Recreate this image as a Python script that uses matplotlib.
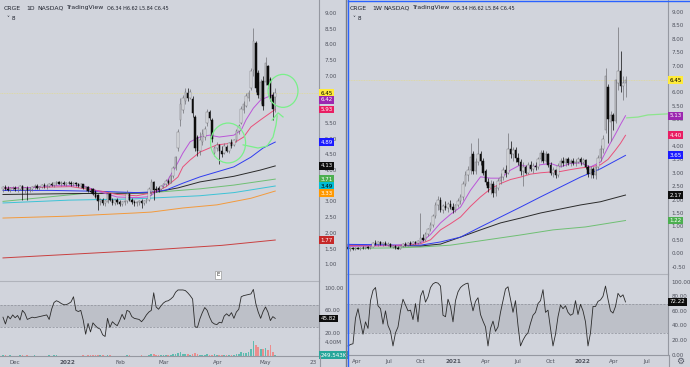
import matplotlib
matplotlib.use('Agg')
import numpy as np
import matplotlib.pyplot as plt
from matplotlib.patches import Ellipse
from matplotlib.transforms import blended_transform_factory as blend

W, H = 690, 367
BG = '#d1d4dc'
TXT = '#50535e'
AXL = '#9598a1'

# ---------------- daily chart (left) ----------------
d_open = [3.38, 3.45, 3.40, 3.36, 3.42, 3.44, 3.38, 3.41, 3.48, 3.36,
          3.43, 3.35, 3.40, 3.45, 3.50, 3.42, 3.46, 3.52, 3.48, 3.50,
          3.56, 3.52, 3.58, 3.62, 3.56, 3.60, 3.55, 3.60, 3.58, 3.54,
          3.58, 3.55, 3.50, 3.54, 3.42, 3.46, 3.34, 3.38, 3.30, 3.20,
          3.00, 3.05, 2.95, 2.98, 3.25, 3.05, 2.96, 3.04, 2.98, 2.92,
          2.98, 3.00, 3.25, 3.06, 2.98, 2.94, 2.97, 3.02, 2.95, 3.00,
          3.06, 3.30, 3.62, 3.40, 3.42, 3.40, 3.48, 3.55, 3.64, 3.60,
          3.80, 4.05, 4.70, 5.60, 5.90, 6.20, 6.45, 6.30, 6.25, 5.70,
          5.05, 4.60, 4.90, 5.05, 5.50, 5.85, 5.60, 4.55, 4.70, 4.80,
          4.60, 4.55, 4.72, 4.60, 4.90, 4.80, 4.95, 5.25, 5.50, 5.90,
          6.05, 6.30, 6.60, 7.20, 8.05, 7.10, 6.25, 6.85, 6.80, 7.30,
          6.90, 6.40, 6.34]
d_high = [3.50, 3.52, 3.48, 3.46, 3.50, 3.50, 3.47, 3.52, 3.52, 3.46,
          3.50, 3.45, 3.48, 3.55, 3.54, 3.50, 3.56, 3.58, 3.55, 3.60,
          3.62, 3.60, 3.66, 3.66, 3.64, 3.65, 3.63, 3.66, 3.64, 3.62,
          3.63, 3.60, 3.58, 3.56, 3.50, 3.48, 3.42, 3.44, 3.36, 3.24,
          3.10, 3.12, 3.06, 3.30, 3.28, 3.12, 3.08, 3.10, 3.05, 3.02,
          3.06, 3.35, 3.28, 3.12, 3.06, 3.02, 3.06, 3.08, 3.05, 3.10,
          3.45, 3.72, 3.66, 3.48, 3.50, 3.52, 3.60, 3.70, 3.72, 3.85,
          4.12, 4.45, 5.30, 6.30, 6.40, 6.60, 6.62, 6.58, 6.35, 5.75,
          5.10, 5.20, 5.30, 5.40, 5.95, 5.90, 5.65, 4.75, 4.90, 4.82,
          4.75, 4.85, 4.80, 4.90, 5.00, 5.00, 5.30, 5.45, 6.05, 6.20,
          6.45, 6.55, 7.25, 8.52, 8.10, 7.20, 6.90, 7.00, 7.60, 7.35,
          6.95, 6.50, 6.62]
d_low = [3.30, 3.35, 3.32, 3.30, 3.36, 3.34, 3.30, 3.36, 3.04, 3.28,
         3.05, 3.30, 3.33, 3.40, 3.38, 3.36, 3.42, 3.44, 3.40, 3.46,
         3.48, 3.45, 3.52, 3.54, 3.50, 3.52, 3.50, 3.54, 3.50, 3.48,
         3.50, 3.46, 3.44, 3.38, 3.34, 3.30, 3.26, 3.20, 3.10, 2.73,
         2.90, 2.88, 2.86, 2.95, 3.00, 2.90, 2.88, 2.92, 2.85, 2.86,
         2.90, 2.96, 3.00, 2.92, 2.86, 2.85, 2.90, 2.80, 2.88, 2.94,
         3.02, 3.20, 3.05, 3.30, 3.30, 3.36, 3.44, 3.50, 3.56, 3.58,
         3.76, 4.00, 4.60, 5.40, 5.80, 6.10, 6.20, 6.25, 5.70, 4.60,
         4.45, 4.48, 4.80, 4.95, 5.40, 5.60, 4.90, 4.45, 4.60, 4.18,
         4.40, 4.50, 4.58, 4.55, 4.70, 4.75, 4.90, 5.15, 5.45, 5.80,
         6.00, 6.20, 6.55, 7.00, 6.50, 6.30, 6.10, 5.90, 6.70, 6.60,
         6.20, 5.60, 5.84]
d_close = [3.45, 3.40, 3.36, 3.42, 3.44, 3.38, 3.41, 3.48, 3.36, 3.43,
           3.35, 3.40, 3.45, 3.50, 3.42, 3.46, 3.52, 3.48, 3.50, 3.56,
           3.52, 3.58, 3.62, 3.56, 3.60, 3.55, 3.60, 3.58, 3.54, 3.58,
           3.55, 3.50, 3.54, 3.42, 3.46, 3.34, 3.30, 3.24, 3.15, 3.00,
           3.05, 2.95, 3.02, 3.25, 3.05, 2.96, 3.04, 2.98, 2.92, 2.98,
           3.02, 3.25, 3.06, 2.98, 2.94, 2.97, 3.02, 2.95, 3.00, 3.06,
           3.40, 3.62, 3.35, 3.36, 3.35, 3.48, 3.55, 3.64, 3.60, 3.80,
           4.05, 4.40, 5.20, 6.10, 6.30, 6.50, 6.30, 6.50, 5.80, 4.70,
           4.60, 4.95, 5.15, 5.30, 5.85, 5.65, 5.00, 4.70, 4.80, 4.62,
           4.50, 4.78, 4.62, 4.85, 4.75, 4.95, 5.25, 5.40, 5.95, 6.10,
           6.35, 6.45, 7.15, 8.10, 6.60, 6.40, 6.80, 6.05, 7.40, 6.70,
           6.30, 5.95, 6.45]
d_volume = [0.20, 0.15, 0.12, 0.18, 0.10, 0.14, 0.12, 0.16, 0.25, 0.12,
            0.22, 0.10, 0.12, 0.15, 0.10, 0.12, 0.14, 0.10, 0.12, 0.16,
            0.12, 0.18, 0.20, 0.12, 0.10, 0.12, 0.14, 0.10, 0.12, 0.10,
            0.12, 0.10, 0.12, 0.18, 0.12, 0.20, 0.16, 0.18, 0.25, 0.35,
            0.20, 0.15, 0.12, 0.30, 0.18, 0.12, 0.10, 0.12, 0.10, 0.12,
            0.14, 0.30, 0.18, 0.12, 0.10, 0.12, 0.14, 0.20, 0.12, 0.14,
            0.40, 0.55, 0.45, 0.20, 0.18, 0.15, 0.20, 0.22, 0.18, 0.30,
            0.45, 0.60, 0.90, 1.10, 0.70, 0.55, 0.45, 0.40, 0.50, 0.80,
            0.55, 0.40, 0.35, 0.30, 0.45, 0.35, 0.40, 0.45, 0.30, 0.35,
            0.25, 0.30, 0.25, 0.30, 0.35, 0.30, 0.45, 0.60, 1.00, 0.90,
            0.80, 1.10, 2.00, 4.20, 3.00, 2.50, 2.10, 1.90, 2.20, 1.80,
            3.00, 1.00, 0.25]  # millions
d_rsi = [48, 36, 50, 45, 52, 47, 51, 43, 60, 55,
         44, 46, 48, 47, 48, 49, 50, 51, 52, 44,
         62, 74, 77, 75, 72, 70, 70, 72, 75, 84,
         60, 58, 60, 43, 18, 37, 22, 38, 33, 29,
         27, 17, 14, 46, 30, 40, 36, 33, 42, 53,
         44, 60, 58, 49, 46, 45, 44, 40, 45, 52,
         57, 60, 91, 66, 62, 68, 73, 76, 77, 80,
         84, 92, 96, 96, 96, 95, 91, 86, 80, 31,
         30, 45, 56, 65, 60, 48, 39, 36, 35, 39,
         38, 50, 54, 50, 56, 46, 57, 62, 84, 86,
         87, 88, 89, 97, 72, 57, 46, 58, 66, 57,
         42, 49, 45.82]

# moving averages (bar index, value)
d_ma_purple_x = [0, 12, 20, 33, 40, 47, 55, 60, 63, 67, 71, 74, 77, 81, 85, 89, 95, 98, 100, 103, 106, 109, 112]
d_ma_purple = [3.43, 3.44, 3.50, 3.50, 3.30, 3.14, 3.12, 3.15, 3.30, 3.58, 4.10, 4.54, 4.90, 5.05, 5.11, 5.05, 5.11, 5.27, 5.60, 5.97, 6.23, 6.33, 6.42]
d_ma_pink_x = [0, 15, 28, 40, 47, 55, 61, 67, 72, 74, 77, 81, 88, 95, 99, 102, 106, 112]
d_ma_pink = [3.42, 3.45, 3.47, 3.33, 3.22, 3.18, 3.27, 3.46, 3.78, 4.10, 4.32, 4.57, 4.80, 4.86, 5.05, 5.37, 5.60, 5.93]
d_ma_blue_x = [0, 20, 40, 55, 61, 67, 74, 81, 88, 95, 102, 107, 112]
d_ma_blue = [3.35, 3.35, 3.32, 3.28, 3.30, 3.36, 3.58, 3.78, 3.94, 4.10, 4.41, 4.70, 4.89]
d_ma_black_x = [0, 30, 50, 61, 72, 81, 95, 106, 112]
d_ma_black = [3.22, 3.25, 3.26, 3.27, 3.43, 3.62, 3.80, 4.00, 4.13]
d_ma_green_x = [0, 33, 61, 81, 95, 112]
d_ma_green = [3.00, 3.25, 3.28, 3.40, 3.52, 3.71]
d_ma_cyan_x = [0, 27, 54, 81, 95, 112]
d_ma_cyan = [2.95, 3.04, 3.08, 3.18, 3.28, 3.49]
d_ma_orange_x = [0, 27, 54, 61, 74, 88, 102, 112]
d_ma_orange = [2.47, 2.53, 2.63, 2.66, 2.79, 2.89, 3.10, 3.33]
d_ma_red_x = [0, 60, 90, 112]
d_ma_red = [1.20, 1.45, 1.60, 1.77]

d_price_ticks = [1.0, 1.5, 2.0, 2.5, 3.0, 4.0, 4.5, 5.0, 5.5, 7.0, 7.5, 8.0, 8.5, 9.0]
d_tick_pos = [4.9, 26.7, 48.1, 66.3, 88.5, 107.8, 127.6]
d_tick_lbl = ['Dec', '2022', 'Feb', 'Mar', 'Apr', 'May', '23']

# ---------------- weekly chart (right) ----------------
w_open = [0.22, 0.15, 0.18, 0.16, 0.19, 0.17, 0.20, 0.18, 0.22, 0.19,
          0.24, 0.38, 0.34, 0.40, 0.33, 0.38, 0.32, 0.36, 0.25, 0.28,
          0.20, 0.17, 0.26, 0.35, 0.31, 0.38, 0.35, 0.40, 0.37, 0.40,
          0.55, 0.50, 0.72, 0.90, 1.05, 1.40, 1.80, 2.00, 1.62, 1.78,
          1.70, 1.85, 1.72, 1.60, 1.80, 1.95, 2.10, 2.60, 2.90, 3.10,
          3.70, 3.05, 3.40, 3.70, 3.45, 3.05, 2.65, 2.45, 2.60, 2.25,
          2.45, 2.70, 2.85, 3.10, 3.00, 3.90, 3.70, 3.85, 3.55, 3.40,
          3.05, 3.20, 3.00, 3.30, 3.15, 3.25, 3.20, 3.50, 3.75, 3.45,
          3.70, 3.30, 3.00, 3.10, 2.90, 3.25, 3.45, 3.35, 3.50, 3.38,
          3.45, 3.35, 3.42, 3.50, 3.40, 3.48, 3.20, 2.95, 3.15, 2.90,
          3.20, 3.55, 3.90, 4.60, 6.20, 4.90, 5.15, 4.95, 6.35, 6.80,
          6.25, 6.34]
w_high = [0.28, 0.22, 0.24, 0.22, 0.25, 0.23, 0.26, 0.25, 0.27, 0.26,
          0.42, 0.48, 0.44, 0.46, 0.42, 0.44, 0.40, 0.38, 0.32, 0.30,
          0.26, 0.28, 0.38, 0.40, 0.42, 0.44, 0.45, 0.46, 0.48, 1.50,
          0.70, 0.78, 0.95, 1.15, 1.45, 1.90, 2.15, 2.10, 1.85, 1.95,
          1.92, 2.00, 1.88, 1.85, 2.05, 2.20, 2.70, 3.05, 3.25, 4.10,
          3.80, 3.55, 4.30, 3.80, 3.55, 3.15, 2.80, 2.75, 2.70, 2.55,
          2.80, 3.00, 3.20, 3.30, 4.50, 4.20, 3.95, 3.95, 3.75, 3.50,
          3.40, 3.30, 3.40, 3.45, 3.35, 3.40, 3.60, 3.85, 3.85, 3.80,
          3.75, 3.40, 3.20, 3.15, 3.35, 3.55, 3.60, 3.55, 3.58, 3.50,
          3.55, 3.50, 3.60, 3.58, 3.55, 3.52, 3.30, 3.25, 3.20, 3.25,
          3.65, 4.05, 4.40, 6.90, 6.30, 5.30, 5.25, 6.50, 8.45, 7.55,
          6.60, 6.62]
w_low = [0.12, 0.10, 0.12, 0.11, 0.14, 0.12, 0.15, 0.14, 0.16, 0.15,
         0.22, 0.30, 0.28, 0.30, 0.28, 0.30, 0.26, 0.22, 0.18, 0.16,
         0.14, 0.15, 0.24, 0.28, 0.28, 0.32, 0.30, 0.34, 0.33, 0.38,
         0.45, 0.46, 0.65, 0.82, 0.98, 1.30, 1.60, 1.55, 1.50, 1.60,
         1.55, 1.65, 1.50, 1.55, 1.72, 1.85, 2.00, 2.50, 2.70, 2.95,
         2.95, 2.95, 3.30, 3.30, 2.90, 2.55, 2.30, 2.20, 2.10, 2.15,
         2.35, 2.60, 2.75, 2.85, 2.95, 3.55, 3.45, 3.40, 3.30, 2.90,
         2.50, 2.95, 2.95, 3.05, 3.00, 3.10, 3.15, 3.40, 3.35, 3.40,
         3.20, 2.90, 2.85, 2.80, 2.85, 3.20, 3.25, 3.25, 3.30, 3.25,
         3.30, 3.25, 3.35, 3.30, 3.32, 3.15, 2.85, 2.80, 2.80, 2.78,
         3.10, 3.45, 3.75, 4.50, 4.10, 4.20, 4.60, 4.85, 6.10, 6.00,
         5.70, 5.84]
w_close = [0.15, 0.18, 0.16, 0.19, 0.17, 0.20, 0.18, 0.22, 0.19, 0.24,
           0.38, 0.34, 0.40, 0.33, 0.38, 0.32, 0.36, 0.25, 0.28, 0.20,
           0.17, 0.26, 0.35, 0.31, 0.38, 0.35, 0.40, 0.37, 0.44, 0.55,
           0.50, 0.72, 0.90, 1.05, 1.40, 1.80, 2.00, 1.62, 1.78, 1.70,
           1.85, 1.72, 1.60, 1.80, 1.95, 2.10, 2.60, 2.90, 3.10, 3.60,
           3.05, 3.40, 3.70, 3.45, 3.00, 2.65, 2.45, 2.60, 2.25, 2.45,
           2.70, 2.85, 3.10, 3.00, 3.90, 3.70, 3.85, 3.55, 3.40, 3.05,
           3.20, 3.00, 3.30, 3.15, 3.25, 3.20, 3.50, 3.75, 3.45, 3.70,
           3.30, 3.00, 3.10, 2.90, 3.25, 3.45, 3.35, 3.50, 3.38, 3.45,
           3.35, 3.42, 3.50, 3.40, 3.48, 3.20, 2.95, 3.15, 2.90, 3.20,
           3.55, 3.90, 4.25, 6.60, 5.00, 5.15, 4.95, 6.45, 6.80, 6.25,
           6.34, 6.45]
w_rsi = [12, 14, 15, 50, 63, 45, 28, 45, 36, 74,
         88, 92, 67, 63, 42, 60, 40, 32, 12, 30,
         38, 60, 76, 68, 60, 61, 48, 70, 45, 80,
         88, 72, 79, 92, 97, 99, 98, 94, 54, 52,
         76, 66, 45, 74, 86, 92, 95, 97, 98, 76,
         60, 73, 78, 55, 46, 38, 12, 36, 46, 32,
         38, 58, 74, 90, 93, 76, 58, 74, 40, 12,
         20, 26, 30, 43, 54, 58, 70, 74, 89, 58,
         61, 36, 12, 28, 52, 68, 63, 67, 58, 54,
         56, 74, 55, 69, 60, 45, 12, 30, 66, 66,
         73, 75, 80, 94, 76, 60, 57, 66, 84, 79,
         82, 72.22]

w_ma_purple_x = [0, 10, 20, 29, 33, 37, 41, 45, 49, 53, 57, 61, 65, 69, 73, 77, 81, 85, 89, 93, 97, 101, 104, 107, 109, 111]
w_ma_purple = [0.25, 0.28, 0.30, 0.38, 0.70, 1.13, 1.45, 1.72, 2.35, 2.85, 2.80, 2.80, 3.10, 3.30, 3.20, 3.30, 3.35, 3.22, 3.35, 3.37, 3.22, 3.40, 3.95, 4.45, 4.80, 5.13]
w_ma_pink_x = [0, 10, 20, 29, 33, 37, 41, 45, 49, 53, 57, 61, 65, 69, 73, 77, 81, 85, 89, 93, 97, 101, 104, 107, 109, 111]
w_ma_pink = [0.28, 0.27, 0.29, 0.35, 0.50, 0.87, 1.10, 1.35, 1.75, 2.10, 2.40, 2.60, 2.75, 2.84, 2.95, 3.00, 3.03, 3.05, 3.12, 3.18, 3.22, 3.30, 3.50, 3.85, 4.10, 4.40]
w_ma_blue_x = [0, 10, 20, 29, 37, 45, 53, 61, 69, 77, 85, 93, 101, 105, 109, 111]
w_ma_blue = [0.33, 0.32, 0.30, 0.30, 0.42, 0.60, 0.98, 1.35, 1.72, 2.10, 2.47, 2.84, 3.15, 3.35, 3.55, 3.65]
w_ma_black_x = [0, 10, 20, 29, 37, 45, 53, 61, 69, 77, 85, 93, 101, 105, 109, 111]
w_ma_black = [0.30, 0.29, 0.28, 0.27, 0.34, 0.60, 0.87, 1.13, 1.31, 1.50, 1.65, 1.80, 1.92, 2.02, 2.12, 2.17]
w_ma_green_x = [0, 10, 20, 29, 41, 55, 69, 82, 95, 111]
w_ma_green = [0.18, 0.19, 0.20, 0.23, 0.30, 0.49, 0.68, 0.87, 0.98, 1.22]

w_price_ticks = [-0.5, 0.0, 0.5, 1.0, 1.5, 2.0, 2.5, 3.0, 3.5, 4.0, 5.0, 5.5, 6.0, 7.0, 7.5, 8.0, 8.5, 9.0]
w_tick_pos = [3.6, 16.4, 29.2, 42, 55.2, 68, 80.8, 93.6, 106.4, 119.6]
w_tick_lbl = ['Apr', 'Jul', 'Oct', '2021', 'Apr', 'Jul', 'Oct', '2022', 'Apr', 'Jul']

# hand-drawn notes on the daily chart
note_line_x = [98.8, 104.9, 108.6, 111.1, 112.3, 112.8]
note_line_y = [4.80, 4.70, 4.76, 5.05, 5.43, 5.72]
note_head_x = [110.7, 113.2, 115.2]
note_head_y = [5.59, 5.82, 5.69]

fig = plt.figure(figsize=(W / 100, H / 100), dpi=100)
fig.patch.set_facecolor(BG)


def pane(x0, y0, x1, y1, pad=4):
    ax = fig.add_axes([x0 / W, 1 - y1 / H, (x1 - x0) / W, (y1 - y0) / H])
    ax.set_facecolor('none')
    for s in ax.spines.values():
        s.set_visible(False)
    ax.spines['right'].set_visible(True)
    ax.spines['right'].set_color(AXL)
    ax.spines['right'].set_linewidth(0.8)
    ax.yaxis.tick_right()
    ax.tick_params(length=0, labelsize=4.1, labelcolor=TXT, pad=pad)
    ax.set_xticks([])
    return ax


def candles(ax, o, h, l, c):
    for i in range(len(o)):
        up = c[i] >= o[i]
        edge = '#707075' if up else '#0c0c0c'
        face = '#eceef2' if up else '#0c0c0c'
        ax.vlines(i, l[i], h[i], color=edge, lw=0.5, zorder=3)
        lo, hi = min(o[i], c[i]), max(o[i], c[i])
        ax.bar(i, max(hi - lo, 0.012), 0.62, bottom=lo, color=face,
               edgecolor=edge, lw=0.35, zorder=4)


def tag(ax, y, text, bg, fg='white', dy=0):
    ax.annotate(text, xy=(1.0, y), xycoords=blend(ax.transAxes, ax.transData),
                xytext=(1.2, dy), textcoords='offset points', ha='left', va='center',
                fontsize=4.0, color=fg, zorder=10, annotation_clip=False,
                bbox=dict(boxstyle='square,pad=0.25', fc=bg, ec='none'))


def rsi_pane(ax, vals, ticks):
    ax.axhspan(30, 70, color='#b7bac2', alpha=0.75, lw=0, zorder=0)
    ax.axhline(70, color='#8c8f98', lw=0.5, ls=(0, (3, 2)))
    ax.axhline(30, color='#8c8f98', lw=0.5, ls=(0, (3, 2)))
    ax.plot(range(len(vals)), vals, color='#2b2b2b', lw=0.6, zorder=3)
    ax.set_yticks(ticks)
    ax.set_yticklabels(['%.2f' % t for t in ticks])


def time_ticks(ax, pos, lbl):
    ax.set_xticks(pos)
    ax.set_xticklabels(lbl)
    ax.tick_params(axis='x', length=0, labelsize=4.1, labelcolor=TXT, pad=3)
    for t in ax.get_xticklabels():
        if t.get_text().isdigit() and len(t.get_text()) == 4:
            t.set_fontweight('bold')


# ---------- left: daily ----------
dx = (-1.23, 130.0)
axd = pane(0, 0, 319, 281)
axd.spines['bottom'].set_visible(True)
axd.spines['bottom'].set_color('#b0b3bb')
axd.set_xlim(*dx)
axd.set_ylim(0.465, 9.414)
axd.set_yticks(d_price_ticks)
axd.set_yticklabels(['%.2f' % v for v in d_price_ticks])
axd.axhline(6.45, color='#e2da95', lw=0.6, ls=(0, (1, 1)), zorder=1)
for xs, ys, col in [(d_ma_red_x, d_ma_red, '#c94040'), (d_ma_orange_x, d_ma_orange, '#f39a3c'),
                    (d_ma_cyan_x, d_ma_cyan, '#3cc3d6'), (d_ma_green_x, d_ma_green, '#6fbf73'),
                    (d_ma_black_x, d_ma_black, '#2a2a2a'), (d_ma_blue_x, d_ma_blue, '#2f3cf0'),
                    (d_ma_pink_x, d_ma_pink, '#e9507a'), (d_ma_purple_x, d_ma_purple, '#bb55d8')]:
    axd.plot(xs, ys, color=col, lw=0.7, zorder=2)
candles(axd, d_open, d_high, d_low, d_close)
note = '#7af08a'
axd.add_patch(Ellipse((92.6, 4.86), 14.4, 1.27, angle=0, fill=False, ec=note, lw=0.9, zorder=6))
axd.add_patch(Ellipse((115.2, 6.52), 12.3, 1.05, angle=0, fill=False, ec=note, lw=0.9, zorder=6))
axd.plot(note_line_x, note_line_y, color=note, lw=0.9, zorder=6)
axd.plot(note_head_x, note_head_y, color=note, lw=0.9, zorder=6)
axd.text(88.5, 0.66, 'E', fontsize=4, color='#333', ha='center', va='center', zorder=7,
         bbox=dict(boxstyle='square,pad=0.3', fc='white', ec='#888', lw=0.4))
for v, t, bg, fg, dy in [(6.45, '6.45', '#ffeb3b', 'black', 0), (6.42, '6.42', '#9c27b0', 'white', -4.3),
                         (5.93, '5.93', '#e91e63', 'white', 0), (4.89, '4.89', '#1a1aff', 'white', 0),
                         (4.13, '4.13', '#0d0d0d', 'white', 0), (3.71, '3.71', '#4caf50', 'white', 0),
                         (3.49, '3.49', '#00bcd4', 'black', 0), (3.33, '3.33', '#ff9800', 'white', -1.5),
                         (1.77, '1.77', '#c62828', 'white', 0)]:
    tag(axd, v, t, bg, fg, dy)

axdr = pane(0, 281, 319, 338)
axdr.set_xlim(*dx)
axdr.set_ylim(11.3, 111.8)
rsi_pane(axdr, d_rsi, [20, 60, 100])
tag(axdr, 45.82, '45.82', '#0d0d0d')

axdv = pane(0, 338, 319, 356)
axdv.spines['bottom'].set_visible(True)
axdv.spines['bottom'].set_color(AXL)
axdv.set_xlim(*dx)
axdv.set_ylim(0, 5.1)
vcol = ['#5fbcb0' if c >= o else '#ec8d8d' for o, c in zip(d_open, d_close)]
axdv.bar(range(len(d_volume)), d_volume, 0.7, color=vcol, lw=0)
axdv.set_yticks([4.0])
axdv.set_yticklabels(['4.00M'])
time_ticks(axdv, d_tick_pos, d_tick_lbl)
tag(axdv, 0.25, '249.543K', '#26a69a')

# ---------- right: weekly ----------
wx = (-0.4, 128.0)
axw = pane(347, 0, 668, 274, pad=2.5)
axw.spines['bottom'].set_visible(True)
axw.spines['bottom'].set_color('#b0b3bb')
axw.set_xlim(*wx)
axw.set_ylim(-0.776, 9.448)
axw.set_yticks(w_price_ticks)
axw.set_yticklabels(['%.2f' % v for v in w_price_ticks])
axw.axhline(6.45, color='#e2da95', lw=0.6, ls=(0, (1, 1)), zorder=1)
for xs, ys, col in [(w_ma_green_x, w_ma_green, '#6fbf73'), (w_ma_black_x, w_ma_black, '#2a2a2a'),
                    (w_ma_blue_x, w_ma_blue, '#2f3cf0'), (w_ma_pink_x, w_ma_pink, '#e9507a'),
                    (w_ma_purple_x, w_ma_purple, '#bb55d8')]:
    axw.plot(xs, ys, color=col, lw=0.7, zorder=2)
candles(axw, w_open, w_high, w_low, w_close)
axw.plot([111.5, 116, 120, 128], [5.05, 5.08, 5.16, 5.2], color='#8de58d', lw=0.9, zorder=6)
for v, t, bg, fg in [(6.45, '6.45', '#ffeb3b', 'black'), (5.13, '5.13', '#9c27b0', 'white'),
                     (4.40, '4.40', '#e91e63', 'white'), (3.65, '3.65', '#1a1aff', 'white'),
                     (2.17, '2.17', '#0d0d0d', 'white'), (1.22, '1.22', '#4caf50', 'white')]:
    tag(axw, v, t, bg, fg)

axwr = pane(347, 274, 668, 355, pad=2.5)
axwr.spines['bottom'].set_visible(True)
axwr.spines['bottom'].set_color(AXL)
axwr.set_xlim(*wx)
axwr.set_ylim(-0.4, 110.5)
rsi_pane(axwr, w_rsi, [0, 20, 40, 60, 80, 100])
time_ticks(axwr, w_tick_pos, w_tick_lbl)
tag(axwr, 72.22, '72.22', '#0d0d0d')

# headers, frame and separators
for x0, tf in [(4, '1D'), (350, '1W')]:
    for dxp, word in [(0, 'CRGE'), (22, tf), (33, 'NASDAQ'), (63, 'TradingView')]:
        fig.text((x0 + dxp) / W, 1 - 8 / H, word, fontsize=4.4, color='#1e222d', va='center')
    fig.text((x0 + 103) / W, 1 - 8 / H, 'O6.34 H6.62 L5.84 C6.45', fontsize=3.5,
             color='#1e222d', va='center')
    fig.text((x0 + 3) / W, 1 - 18 / H, '˅ 8', fontsize=4.2, color='#1e222d', va='center')
fig.add_artist(plt.Line2D([345.5 / W, 345.5 / W], [0, 1], color='#7b7e87', lw=1.0))
fig.add_artist(plt.Line2D([347.5 / W, 347.5 / W], [0, 1], color='#2962ff', lw=1.0))
fig.add_artist(plt.Line2D([347.5 / W, 1], [1 - 0.7 / H, 1 - 0.7 / H], color='#2962ff', lw=1.0))
fig.add_artist(plt.Line2D([668.5 / W, 668.5 / W], [0, 12 / H], color=AXL, lw=0.8))
fig.add_artist(plt.Line2D([319.5 / W, 319.5 / W], [0, 12 / H], color=AXL, lw=0.8))
fig.text(680 / W, 1 - 361.5 / H, '⚙', fontsize=6.5, color='#555966', ha='center', va='center')

fig.savefig('out.png', dpi=100, facecolor=BG)
